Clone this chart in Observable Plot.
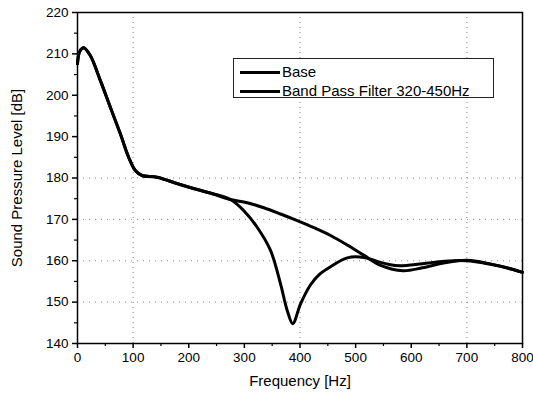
<!DOCTYPE html>
<html><head><meta charset="utf-8">
<script src="https://cdn.jsdelivr.net/npm/d3@7"></script>
<script src="https://cdn.jsdelivr.net/npm/@observablehq/plot@0.6"></script>
<style>
body{margin:0;background:#fff;font-family:"Liberation Sans",Arial,sans-serif;}
#wrap{position:relative;width:533px;height:400px;}
#legend{position:absolute;left:233px;top:58px;width:259px;height:38px;border:1px solid #222;background:#fff;font-size:15px;color:#000;}
.row{position:absolute;left:6px;display:flex;align-items:center;height:18px;line-height:18px;}
.row span.ln{display:inline-block;width:40px;height:3px;background:#000;margin-right:2px;}
svg g[aria-label="x-axis label"] text, svg g[aria-label="y-axis label"] text{font-size:15px;}
</style></head>
<body><div id="wrap"><div id="legend">
<div class="row" style="top:4px"><span class="ln"></span><span id="l0"></span></div>
<div class="row" style="top:23px"><span class="ln"></span><span id="l1"></span></div>
</div></div>
<script>
const seriesNames = ["Base", "Band Pass Filter 320-450Hz"];
// shared part (0-275 Hz)
const commonFreq = [0, 4, 11, 23, 41, 59, 77, 92, 104, 116, 143, 180, 210, 240, 275];
const commonSPL  = [207.6, 210.6, 211.5, 209.6, 203.6, 197.1, 190.7, 185.0, 181.8, 180.6, 180.2, 178.6, 177.4, 176.3, 174.8];
const baseFreq = [305, 335, 365, 395, 425, 455, 485, 515, 545, 585, 620, 660, 700, 740, 780, 800];
const baseSPL  = [174.0, 172.8, 171.3, 169.7, 168.0, 166.1, 163.8, 161.3, 158.9, 157.6, 158.3, 159.5, 160.1, 159.3, 158.0, 157.2];
const filtFreq = [299, 323, 347, 365, 377, 387, 401, 419, 434, 452, 485, 515, 540, 560, 580, 620, 660, 700, 740, 780, 800];
const filtSPL  = [172.1, 168.1, 162.5, 154.4, 148.0, 144.8, 149.6, 154.2, 156.6, 158.3, 160.7, 160.8, 159.8, 159.1, 158.8, 159.3, 159.9, 160.0, 159.2, 158.0, 157.2];
const xTicks = [0, 100, 200, 300, 400, 500, 600, 700, 800];
const yTicks = [140, 150, 160, 170, 180, 190, 200, 210, 220];

document.getElementById("l0").textContent = seriesNames[0];
document.getElementById("l1").textContent = seriesNames[1];

const data = [];
commonFreq.forEach((f, i) => { data.push({s: seriesNames[0], f, v: commonSPL[i]}); data.push({s: seriesNames[1], f, v: commonSPL[i]}); });
baseFreq.forEach((f, i) => data.push({s: seriesNames[0], f, v: baseSPL[i]}));
filtFreq.forEach((f, i) => data.push({s: seriesNames[1], f, v: filtSPL[i]}));

const minorX = d3.range(50, 800, 100);
const minorY = d3.range(145, 220, 10);

const chart = Plot.plot({
  width: 533, height: 400,
  marginLeft: 77, marginRight: 11, marginTop: 12, marginBottom: 57,
  style: {fontFamily: "Liberation Sans, Arial, sans-serif", fontSize: "13.5px", color: "#000", background: "#fff"},
  x: {domain: [0, 800]},
  y: {domain: [140, 220]},
  marks: [
    Plot.gridX([100, 400, 700], {stroke: "#444", strokeOpacity: 0.7, strokeDasharray: "1,4"}),
    Plot.gridY([150, 160, 170, 180], {stroke: "#444", strokeOpacity: 0.6, strokeDasharray: "1,5"}),
    Plot.line(data, {x: "f", y: "v", z: "s", stroke: "#000", strokeWidth: 3, curve: "catmull-rom"}),
    Plot.frame({stroke: "#000", strokeWidth: 1.5}),
    Plot.axisX(xTicks, {tickSize: 5, tickPadding: 4, fontSize: 13.5, label: "Frequency [Hz]", labelAnchor: "center", labelArrow: "none", labelOffset: 42, strokeWidth: 1.5}),
    Plot.axisX(minorX, {tickSize: 3, text: null, label: null, strokeWidth: 1.2}),
    Plot.axisY(yTicks, {tickSize: 5, tickPadding: 4, fontSize: 13.5, label: "Sound Pressure Level [dB]", labelAnchor: "center", labelArrow: "none", labelOffset: 66, strokeWidth: 1.5}),
    Plot.axisY(minorY, {tickSize: 3, text: null, label: null, strokeWidth: 1.2})
  ]
});
chart.style.position = "absolute";
chart.style.left = "0"; chart.style.top = "0";
document.getElementById("wrap").insertBefore(chart, document.getElementById("legend"));
</script></body></html>
